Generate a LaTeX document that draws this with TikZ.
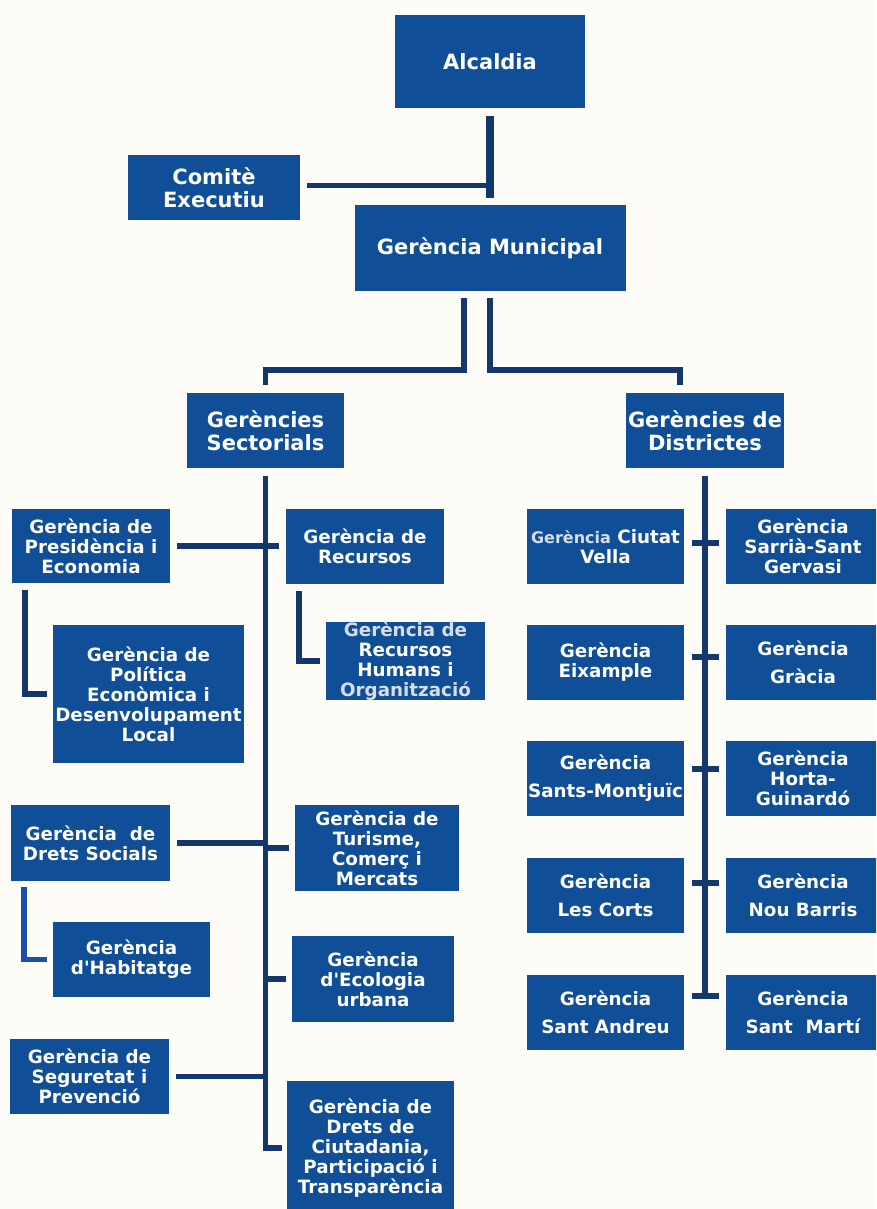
\documentclass[tikz,border=0pt]{standalone}
\usepackage{fontspec}
\newfontfamily\djv{DejaVu Sans}
\definecolor{boxblue}{RGB}{17,78,152}
\definecolor{lineblue}{RGB}{20,55,110}
\definecolor{habblue}{RGB}{28,78,178}
\definecolor{bgc}{RGB}{253,252,246}
\definecolor{paletxt}{RGB}{215,222,232}
\begin{document}
\begin{tikzpicture}[x=1pt,y=-1pt,
  bx/.style={fill=boxblue, text=white, font=\djv\bfseries\fontsize{18.3}{20}\selectfont,
             align=center, inner sep=0pt, anchor=center},
  big/.style={font=\djv\bfseries\fontsize{21}{23}\selectfont},
  sz/.style 2 args={minimum width=#1pt, minimum height=#2pt},
  ln/.style={draw=lineblue, line width=5.5pt},
  tick/.style={draw=lineblue, line width=6.5pt}]
\useasboundingbox (0,0) rectangle (876,1209);
\clip (0,0) rectangle (876,1209);
\fill[bgc] (0,0) rectangle (876,1209);

% top
\node[bx,big,sz={190}{93}] (alc) at (490,61.5) {Alcaldia};
\node[bx,big,sz={172}{65}] (com) at (214,187.5) {Comitè\\Executiu};
\node[bx,big,sz={271}{86}] (gm) at (490,248) {Gerència Municipal};
\node[bx,big,sz={157}{75}] (gs) at (265.5,430.5) {Gerències\\Sectorials};
\node[bx,big,sz={158}{75}] (gd) at (705,430.5) {Gerències de\\Districtes};

% sectorials
\node[bx,sz={158}{74}] (pres) at (91,546) {Gerència de\\Presidència i\\Economia};
\node[bx,sz={191}{138}] (pol) at (148.5,694) {Gerència de\\Política\\Econòmica i\\Desenvolupament\\Local};
\node[bx,sz={158}{75}] (rec) at (365,546.5) {Gerència de\\Recursos};
\node[bx,sz={159}{75}] (rh) at (405.5,661) {{\color{paletxt}Gerència de}\\Recursos\\Humans i\\{\color{paletxt}Organització}};
\node[bx,sz={159}{76}] (ds) at (90.5,843) {Gerència~~de\\Drets Socials};
\node[bx,sz={164}{86}] (tur) at (377,848) {Gerència de\\Turisme,\\Comerç i\\Mercats};
\node[bx,sz={157}{75}] (hab) at (131.5,959.5) {Gerència\\d'Habitatge};
\node[bx,sz={162}{86}] (eco) at (373,979) {Gerència\\d'Ecologia\\urbana};
\node[bx,sz={159}{75}] (seg) at (89.5,1076.5) {Gerència de\\Seguretat i\\Prevenció};
\node[bx,sz={167}{134}] (dc) at (370.5,1148) {Gerència de\\Drets de\\Ciutadania,\\Participació i\\Transparència};

% districtes
\node[bx,sz={157}{75}] (d1l) at (605.5,546.5) {{\fontsize{16}{20}\selectfont\color{paletxt}Gerència} Ciutat\\Vella};
\node[bx,sz={154}{75}] (d1r) at (803,546.5) {Gerència\\Sarrià-Sant\\Gervasi};
\node[bx,sz={157}{75}] (d2l) at (605.5,662.5) {Gerència\\Eixample};
\node[bx,sz={154}{75}] (d2r) at (803,662.5) {Gerència\\[8pt]Gràcia};
\node[bx,sz={157}{75}] (d3l) at (605.5,778.5) {Gerència\\[8pt]Sants-Montjuïc};
\node[bx,sz={154}{75}] (d3r) at (803,778.5) {Gerència\\Horta-\\Guinardó};
\node[bx,sz={157}{75}] (d4l) at (605.5,895.5) {Gerència\\[8pt]Les Corts};
\node[bx,sz={154}{75}] (d4r) at (803,895.5) {Gerència\\[8pt]Nou Barris};
\node[bx,sz={157}{75}] (d5l) at (605.5,1012.5) {Gerència\\[8pt]Sant Andreu};
\node[bx,sz={154}{75}] (d5r) at (803,1012.5) {Gerència\\[8pt]Sant~~Martí};

% top connectors
\draw[ln, line width=8pt] ([yshift=-8pt]alc.south) -- ([yshift=7pt]gm.north);
\draw[ln] ([xshift=7pt,yshift=2pt]com.east) -- ([yshift=2pt]com.east -| gm.north);
\draw[ln] ([xshift=-26pt,yshift=-7pt]gm.south) -- ++(0,72) -| ([yshift=8pt]gs.north);
\draw[ln] ([yshift=-7pt]gm.south) -- ++(0,72) -| ([xshift=-25pt,yshift=8pt]gd.north);

% sectorial connectors
\draw[ln] ([yshift=-8pt]gs.south) |- ([xshift=-5pt]dc.west);
\draw[ln] ([xshift=7pt]pres.east) -- ([xshift=-7pt]rec.west |- pres.east);
\draw[ln] ([xshift=13pt,yshift=-7pt]pres.south west) |- ([xshift=-6pt]pol.west);
\draw[ln] ([xshift=13pt,yshift=-7pt]rec.south west) |- ([xshift=-6pt]rh.west);
\draw[ln] ([xshift=7pt]ds.east) -- (ds.east -| gs.south);
\draw[ln] ([xshift=-6pt]tur.west) -- (tur.west -| gs.south);
\draw[ln, draw=habblue] ([xshift=13pt,yshift=-6pt]ds.south west) |- ([xshift=-6pt]hab.west);
\draw[ln] ([xshift=-6pt]eco.west) -- (eco.west -| gs.south);
\draw[ln] ([xshift=7pt]seg.east) -- (seg.east -| gs.south);

% district connectors
\draw[ln] ([yshift=-8pt]gd.south) -- ([yshift=16.5pt]d5l.east -| gd.south);
\draw[tick] ([xshift=8pt,yshift=3.5pt]d1l.east) -- ([xshift=-7pt,yshift=3.5pt]d1r.west);
\draw[tick] ([xshift=8pt,yshift=5.5pt]d2l.east) -- ([xshift=-7pt,yshift=5.5pt]d2r.west);
\draw[tick] ([xshift=8pt,yshift=9.5pt]d3l.east) -- ([xshift=-7pt,yshift=9.5pt]d3r.west);
\draw[tick] ([xshift=8pt,yshift=12.5pt]d4l.east) -- ([xshift=-7pt,yshift=12.5pt]d4r.west);
\draw[tick] ([xshift=8pt,yshift=16.5pt]d5l.east) -- ([xshift=-7pt,yshift=16.5pt]d5r.west);
\end{tikzpicture}
\end{document}
